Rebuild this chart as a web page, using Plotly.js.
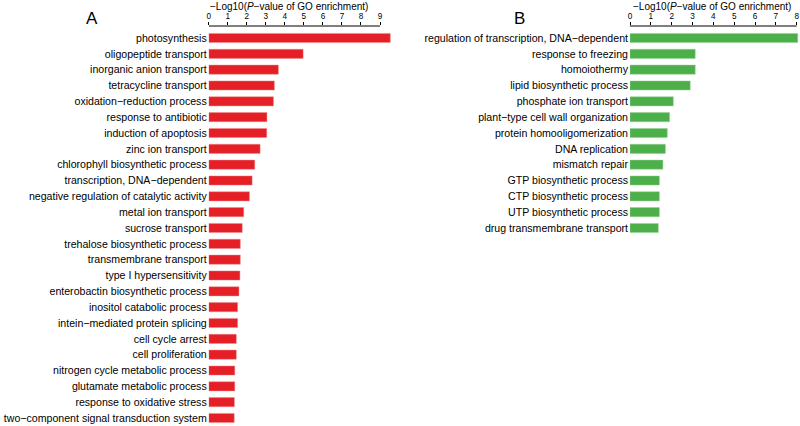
<!DOCTYPE html>
<html>
<head>
<meta charset="utf-8">
<script src="https://cdn.plot.ly/plotly-3.0.1.min.js"></script>
<style>html,body{margin:0;padding:0;background:#fff;}#chart{width:800px;height:426px;}</style>
</head>
<body>
<div id="chart"></div>
<script>
const catsA = [
  "photosynthesis","oligopeptide transport","inorganic anion transport","tetracycline transport",
  "oxidation\u2212reduction process","response to antibiotic","induction of apoptosis","zinc ion transport",
  "chlorophyll biosynthetic process","transcription, DNA\u2212dependent","negative regulation of catalytic activity",
  "metal ion transport","sucrose transport","trehalose biosynthetic process","transmembrane transport",
  "type I hypersensitivity","enterobactin biosynthetic process","inositol catabolic process",
  "intein\u2212mediated protein splicing","cell cycle arrest","cell proliferation",
  "nitrogen cycle metabolic process","glutamate metabolic process","response to oxidative stress",
  "two\u2212component signal transduction system"
];
const valsA = [9.54,4.96,3.66,3.45,3.40,3.06,3.05,2.70,2.42,2.28,2.14,1.84,1.76,1.66,1.66,1.64,1.59,1.52,1.52,1.45,1.45,1.37,1.37,1.35,1.34];

const catsB = [
  "regulation of transcription, DNA\u2212dependent","response to freezing","homoiothermy",
  "lipid biosynthetic process","phosphate ion transport","plant\u2212type cell wall organization",
  "protein homooligomerization","DNA replication","mismatch repair","GTP biosynthetic process",
  "CTP biosynthetic process","UTP biosynthetic process","drug transmembrane transport"
];
const valsB = [8.05,3.13,3.13,2.89,2.08,1.90,1.79,1.70,1.58,1.41,1.41,1.41,1.36];

const ticksA = [0,1,2,3,4,5,6,7,8,9];
const ticksB = [0,1,2,3,4,5,6,7,8];
const axisTitle = "\u2212Log10(<i>P</i>\u2212value of GO enrichment)";

const red = "#E41F26", green = "#4DAF4A";
const font = "Liberation Sans, Arial, sans-serif";

const traces = [
  {type:"bar", orientation:"h", x:valsA, y:catsA, xaxis:"x", yaxis:"y",
   marker:{color:red, line:{color:"rgba(240,140,140,0.8)", width:0.6}}, width:0.58, hoverinfo:"x+y"},
  {type:"bar", orientation:"h", x:valsB, y:catsB, xaxis:"x2", yaxis:"y2",
   marker:{color:green, line:{color:"rgba(150,210,150,0.8)", width:0.6}}, width:0.58, hoverinfo:"x+y"}
];

const yrange = [24.505, -0.758];
const xa = {side:"top", showgrid:false, zeroline:false, showline:false, ticks:"outside", ticklen:3,
  tickwidth:1, tickcolor:"#000", tickfont:{size:8.2, family:font, color:"#000"}, fixedrange:true};
const ya = {type:"category", range:yrange, showgrid:false, zeroline:false, showline:false, ticks:"",
  tickfont:{size:10.6, family:font, color:"#000"}, ticklabelstandoff:1, automargin:false};

const layout = {
  width:800, height:426, margin:{l:0, r:0, t:26, b:0}, paper_bgcolor:"#fff", plot_bgcolor:"#fff",
  showlegend:false, bargap:0.4,
  xaxis: Object.assign({}, xa, {domain:[0.2609,0.4893], range:[0,9.6], tickvals:ticksA, anchor:"y"}),
  yaxis: Object.assign({}, ya, {domain:[0,1], anchor:"x"}),
  xaxis2: Object.assign({}, xa, {domain:[0.7875,0.999], range:[0,8.12], tickvals:ticksB, anchor:"y2"}),
  yaxis2: Object.assign({}, ya, {domain:[0,1], anchor:"x2", categoryarray:catsB, categoryorder:"array"}),
  shapes:[
    {type:"line", xref:"x", yref:"paper", x0:ticksA[0], x1:ticksA[ticksA.length-1], y0:1, y1:1, line:{color:"#000", width:1}},
    {type:"line", xref:"x2", yref:"paper", x0:ticksB[0], x1:ticksB[ticksB.length-1], y0:1, y1:1, line:{color:"#000", width:1}}
  ],
  annotations:[
    {text:axisTitle, xref:"x", yref:"paper", x:4.2, y:1, yshift:20, showarrow:false, xanchor:"center", yanchor:"middle",
     font:{size:10, family:font, color:"#000"}},
    {text:axisTitle, xref:"x2", yref:"paper", x:3.95, y:1, yshift:20, showarrow:false, xanchor:"center", yanchor:"middle",
     font:{size:10, family:font, color:"#000"}},
    {text:"A", xref:"paper", yref:"paper", x:92/800, y:1, yshift:8, showarrow:false, xanchor:"center", yanchor:"middle",
     font:{size:17, family:font, color:"#000"}},
    {text:"B", xref:"paper", yref:"paper", x:519/800, y:1, yshift:8, showarrow:false, xanchor:"center", yanchor:"middle",
     font:{size:17, family:font, color:"#000"}}
  ]
};
layout.yaxis.categoryarray = catsA; layout.yaxis.categoryorder = "array";

Plotly.newPlot("chart", traces, layout, {displayModeBar:false, staticPlot:true});
</script>
</body>
</html>
